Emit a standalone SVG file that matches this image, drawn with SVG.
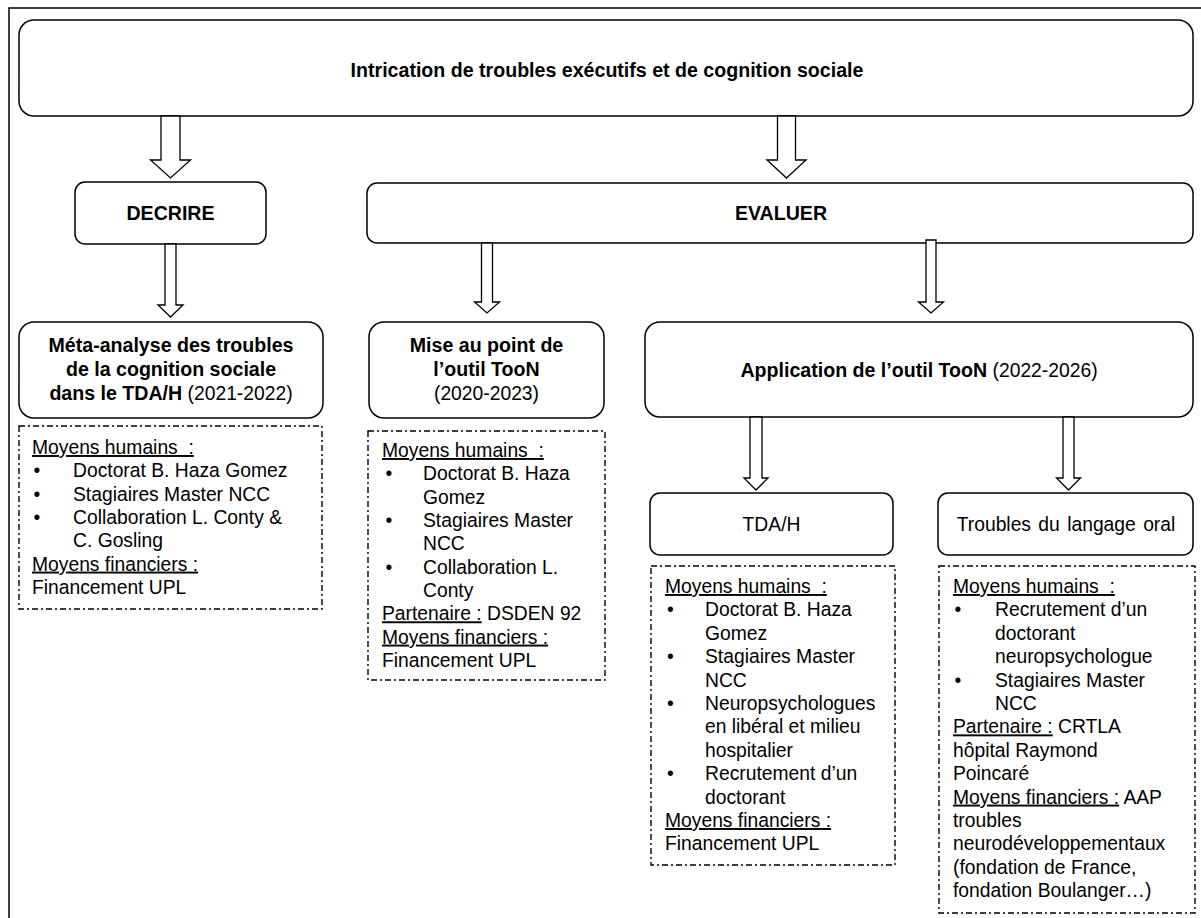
<svg xmlns="http://www.w3.org/2000/svg" width="1201" height="918" viewBox="0 0 1201 918">
<style>
text{font-family:"Liberation Sans",Arial,sans-serif;font-size:19.3px;fill:#000}
.b{font-weight:bold;font-size:19.6px}
.c{text-anchor:middle}
.u{text-decoration:underline}
.box{fill:#fff;stroke:#000;stroke-width:1.5}
.dash{fill:none;stroke:#000;stroke-width:1.4;stroke-dasharray:6 3 2 3}
.arr{fill:#fff;stroke:#000;stroke-width:1.3;stroke-linejoin:miter}
</style>
<rect x="0" y="0" width="1201" height="918" fill="#fff"/>
<rect x="9" y="8" width="1210" height="930" fill="none" stroke="#000" stroke-width="1.5"/>

<g id="n-top">
<rect class="box" x="19" y="20" width="1174" height="96" rx="15"/>
<text class="b c" x="607" y="77">Intrication de troubles exécutifs et de cognition sociale</text>
</g>
<g id="n-decrire">
<rect class="box" x="75" y="182" width="191" height="62" rx="10"/>
<text class="b c" x="170.5" y="220">DECRIRE</text>
</g>
<g id="n-evaluer">
<rect class="box" x="367" y="183" width="826" height="60" rx="10"/>
<text class="b c" x="781" y="220">EVALUER</text>
</g>
<g id="n-meta">
<rect class="box" x="19" y="322" width="304" height="96" rx="15"/>
<text class="b c" x="171" y="352">Méta-analyse des troubles</text>
<text class="b c" x="171" y="376">de la cognition sociale</text>
<text class="c" x="171" y="400"><tspan class="b">dans le TDA/H</tspan> (2021-2022)</text>
</g>
<g id="n-mise">
<rect class="box" x="369" y="322" width="235" height="96" rx="15"/>
<text class="b c" x="486.5" y="352">Mise au point de</text>
<text class="b c" x="486.5" y="376">l’outil TooN</text>
<text class="c" x="486.5" y="400">(2020-2023)</text>
</g>
<g id="n-application">
<rect class="box" x="645" y="322" width="548" height="95" rx="15"/>
<text class="c" x="919" y="377"><tspan class="b">Application de l’outil TooN</tspan> (2022-2026)</text>
</g>
<g id="n-tdah">
<rect class="box" x="650" y="493" width="243" height="62" rx="10"/>
<text class="c" x="771.5" y="531">TDA/H</text>
</g>
<g id="n-langage">
<rect class="box" x="938" y="493" width="255" height="62" rx="10"/>
<text class="c" x="1066" y="531" word-spacing="2">Troubles du langage oral</text>
</g>

<g id="n-moyens-meta">
<rect class="dash" x="19" y="426" width="303" height="183"/>
<text x="32" y="454"><tspan class="u">Moyens humains&#160; :</tspan></text>
<text x="33.5" y="477.3">•</text><text x="73" y="477.3">Doctorat B. Haza Gomez</text>
<text x="33.5" y="500.6">•</text><text x="73" y="500.6">Stagiaires Master NCC</text>
<text x="33.5" y="524">•</text><text x="73" y="524">Collaboration L. Conty &amp;</text>
<text x="73" y="547.3">C. Gosling</text>
<text x="32" y="570.6"><tspan class="u">Moyens financiers :</tspan></text>
<text x="32" y="594">Financement UPL</text>
</g>
<g id="n-moyens-mise">
<rect class="dash" x="368" y="431" width="237" height="249"/>
<text x="382" y="457"><tspan class="u">Moyens humains&#160; :</tspan></text>
<text x="385.5" y="480.3">•</text><text x="423" y="480.3">Doctorat B. Haza</text>
<text x="423" y="503.6">Gomez</text>
<text x="385.5" y="527">•</text><text x="423" y="527">Stagiaires Master</text>
<text x="423" y="550.3">NCC</text>
<text x="385.5" y="573.6">•</text><text x="423" y="573.6">Collaboration L.</text>
<text x="423" y="597">Conty</text>
<text x="382" y="620.3"><tspan class="u">Partenaire :</tspan> DSDEN 92</text>
<text x="382" y="643.6"><tspan class="u">Moyens financiers :</tspan></text>
<text x="382" y="667">Financement UPL</text>
</g>
<g id="n-moyens-tdah">
<rect class="dash" x="651" y="566" width="244" height="299"/>
<text x="665" y="593"><tspan class="u">Moyens humains&#160; :</tspan></text>
<text x="667" y="616.4">•</text><text x="705" y="616.4">Doctorat B. Haza</text>
<text x="705" y="639.8">Gomez</text>
<text x="667" y="663.2">•</text><text x="705" y="663.2">Stagiaires Master</text>
<text x="705" y="686.6">NCC</text>
<text x="667" y="710">•</text><text x="705" y="710">Neuropsychologues</text>
<text x="705" y="733.4">en libéral et milieu</text>
<text x="705" y="756.8">hospitalier</text>
<text x="667" y="780.2">•</text><text x="705" y="780.2">Recrutement d’un</text>
<text x="705" y="803.6">doctorant</text>
<text x="665" y="827"><tspan class="u">Moyens financiers :</tspan></text>
<text x="665" y="850.4">Financement UPL</text>
</g>
<g id="n-moyens-langage">
<rect class="dash" x="939" y="566" width="256" height="347"/>
<text x="953" y="593"><tspan class="u">Moyens humains&#160; :</tspan></text>
<text x="954.5" y="616.4">•</text><text x="995" y="616.4">Recrutement d’un</text>
<text x="995" y="639.8">doctorant</text>
<text x="995" y="663.2">neuropsychologue</text>
<text x="954.5" y="686.6">•</text><text x="995" y="686.6">Stagiaires Master</text>
<text x="995" y="710">NCC</text>
<text x="953" y="733.4"><tspan class="u">Partenaire :</tspan> CRTLA</text>
<text x="953" y="756.8">hôpital Raymond</text>
<text x="953" y="780.2">Poincaré</text>
<text x="953" y="803.6"><tspan class="u">Moyens financiers :</tspan> AAP</text>
<text x="953" y="827">troubles</text>
<text x="953" y="850.4">neurodéveloppementaux</text>
<text x="953" y="873.8">(fondation de France,</text>
<text x="953" y="897.2">fondation Boulanger…)</text>
</g>

<g id="connectors">
<path class="arr" d="M161,116 V160 H150.5 L170.5,178 L190.5,160 H180 V116 Z"/>
<path class="arr" d="M777.5,116 V160 H767 L786.5,178 L806,160 H795.5 V116 Z"/>
<path class="arr" d="M165,244 V305 H158 L170.5,317 L183,305 H176 V244 Z"/>
<path class="arr" d="M481.5,243 V302 H474.5 L487,313 L499.5,302 H492.5 V243 Z"/>
<path class="arr" d="M926,240 V302 H918.5 L931,313 L943.5,302 H936 V240 Z"/>
<path class="arr" d="M750,417 V478 H744 L756,490 L768,478 H762 V417 Z"/>
<path class="arr" d="M1063,417 V478 H1056.5 L1068.5,490 L1080.5,478 H1074 V417 Z"/>
</g>
</svg>
